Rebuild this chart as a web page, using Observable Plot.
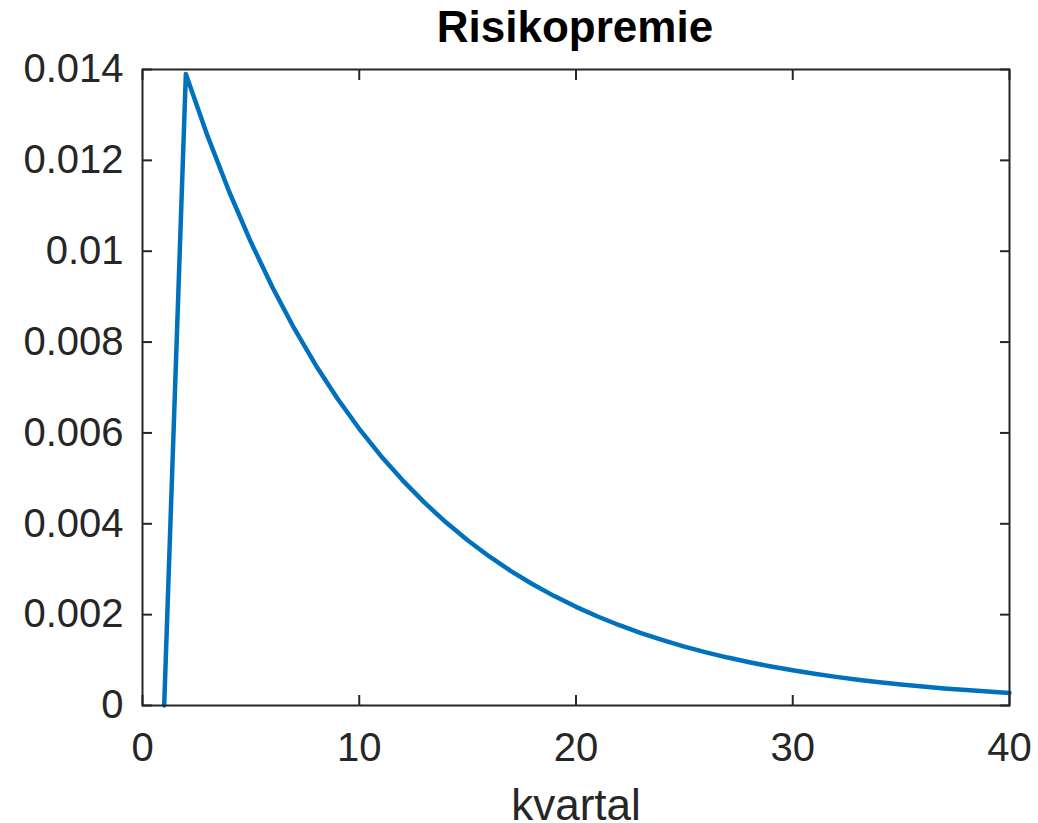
<!DOCTYPE html>
<html><head><meta charset="utf-8">
<script src="https://cdn.jsdelivr.net/npm/d3@7"></script>
<script src="https://cdn.jsdelivr.net/npm/@observablehq/plot@0.6"></script>
<style>
body{margin:0;background:#fff;}
#title{width:1038px;height:50px;box-sizing:border-box;padding-left:112px;text-align:center;font-family:"Liberation Sans",Arial,Helvetica,sans-serif;font-weight:bold;font-size:44px;line-height:54px;color:#000;white-space:nowrap;}
#chart svg{overflow:visible;}
</style></head><body>
<div id="title"></div>
<div id="chart"></div>
<script>
const title = "Risikopremie";
const xLabel = "kvartal";
const quarters = [1,2,3,4,5,6,7,8,9,10,11,12,13,14,15,16,17,18,19,20,21,22,23,24,25,26,27,28,29,30,31,32,33,34,35,36,37,38,39,40];
const riskPremium = [0, 0.01390, 0.012538, 0.011309, 0.010201, 0.009201, 0.008300, 0.007486, 0.006753, 0.006091,
  0.005494, 0.004956, 0.004470, 0.004032, 0.003637, 0.003281, 0.002959, 0.002669, 0.002408, 0.002172,
  0.001959, 0.001767, 0.001594, 0.001438, 0.001297, 0.001170, 0.001055, 0.000952, 0.000859, 0.000774,
  0.000699, 0.000630, 0.000568, 0.000513, 0.000462, 0.000417, 0.000376, 0.000339, 0.000306, 0.000276];
const xTicks = [0, 10, 20, 30, 40];
const xTickLabels = ["0", "10", "20", "30", "40"];
const yTicks = [0, 0.002, 0.004, 0.006, 0.008, 0.01, 0.012, 0.014];
const yTickLabels = ["0", "0.002", "0.004", "0.006", "0.008", "0.01", "0.012", "0.014"];

document.getElementById("title").textContent = title;

const data = quarters.map((q, i) => ({q, v: riskPremium[i]}));
const ink = "#262626";

const chart = Plot.plot({
  width: 1038,
  height: 773,
  marginTop: 19,
  marginBottom: 118,
  marginLeft: 142,
  marginRight: 29,
  style: {fontFamily: '"Liberation Sans", Arial, Helvetica, sans-serif', fontSize: "40px", color: ink, background: "#fff"},
  x: {domain: [0, 40]},
  y: {domain: [0, 0.014]},
  marks: [
    Plot.line(data, {x: "q", y: "v", stroke: "#0072BD", strokeWidth: 4.5}),
    Plot.frame({stroke: ink, strokeWidth: 2}),
    Plot.axisX({anchor: "bottom", ticks: xTicks, tickSize: -10, fill: "none", stroke: ink, strokeWidth: 2, label: null}),
    Plot.axisX({anchor: "top", ticks: xTicks, tickSize: -10, fill: "none", stroke: ink, strokeWidth: 2, label: null}),
    Plot.axisY({anchor: "left", ticks: yTicks, tickSize: -10, fill: "none", stroke: ink, strokeWidth: 2, label: null}),
    Plot.axisY({anchor: "right", ticks: yTicks, tickSize: -10, fill: "none", stroke: ink, strokeWidth: 2, label: null}),
    Plot.axisX({anchor: "bottom", ticks: xTicks, tickSize: 0, tickPadding: 27, tickFormat: (d) => xTickLabels[xTicks.indexOf(d)], fill: ink, label: null}),
    Plot.axisY({anchor: "left", ticks: yTicks, tickSize: 0, tickPadding: 19, tickFormat: (d) => yTickLabels[yTicks.indexOf(d)], fill: ink, label: null}),
    Plot.text([xLabel], {frameAnchor: "bottom", text: (d) => d, dy: 114, lineAnchor: "bottom", fontSize: 44, fill: ink})
  ]
});
document.getElementById("chart").appendChild(chart);
</script>
</body></html>
